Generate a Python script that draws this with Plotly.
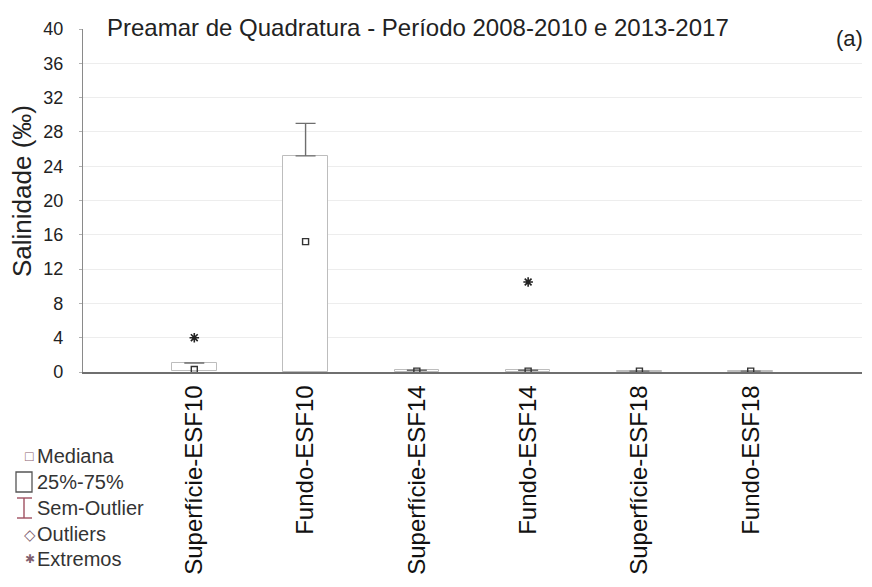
import plotly.graph_objects as go

categories = ["Superfície-ESF10", "Fundo-ESF10", "Superfície-ESF14",
              "Fundo-ESF14", "Superfície-ESF18", "Fundo-ESF18"]
positions = [1, 2, 3, 4, 5, 6]
median = [0.3, 15.2, 0.1, 0.1, 0.1, 0.1]
q1 = [0.1, 0.0, 0.0, 0.0, 0.0, 0.0]
q3 = [1.05, 25.2, 0.2, 0.2, 0.1, 0.1]
wmax = [1.05, 29.0, 0.2, 0.2, 0.1, 0.1]
extreme_pos = [1, 4]
extreme_val = [4.0, 10.5]
yticks = [0, 4, 8, 12, 16, 20, 24, 28, 32, 36, 40]

FONT = "Liberation Sans, Arial, sans-serif"
TXT = "#222222"

# plot area in screenshot pixels (page has an 8px body offset)
PL, PR, PT, PB = 83, 862, 29, 372
PW, PH = PR - PL, PB - PT


def px_x(p):
    return (p - PL) / PW


def px_y(p):
    return (PB - p) / PH


fig = go.Figure()

# boxes (25%-75%)
fig.add_trace(go.Bar(
    x=positions, y=[b - a for a, b in zip(q1, q3)], base=q1, width=0.4,
    marker=dict(color="white", line=dict(color="#bdbdbd", width=1)),
    showlegend=False, hoverinfo="skip"))

# whiskers (non-outlier range)
fig.add_trace(go.Scatter(
    x=positions, y=q3, mode="markers",
    marker=dict(size=1, color="rgba(0,0,0,0)"),
    error_y=dict(type="data", symmetric=False,
                 array=[b - a for a, b in zip(q3, wmax)],
                 arrayminus=[0 for _ in q3],
                 color="#6e6e6e", thickness=1.4, width=10),
    showlegend=False, hoverinfo="skip"))

# medians
fig.add_trace(go.Scatter(
    x=positions, y=median, mode="markers",
    marker=dict(symbol="square-open", size=6, color="#333333",
                line=dict(width=1.4)),
    showlegend=False))

# extremes
fig.add_trace(go.Scatter(
    x=extreme_pos, y=extreme_val, mode="markers",
    marker=dict(symbol="asterisk-open", size=8, color="#222222",
                line=dict(width=1.6, color="#222222")),
    showlegend=False))

fig.update_layout(
    width=872, height=587,
    margin=dict(l=PL - 8, r=872 - (PR - 8), t=PT - 8, b=587 - (PB - 8)),
    paper_bgcolor="white", plot_bgcolor="white",
    font=dict(family=FONT, color=TXT),
    bargap=0,
    xaxis=dict(range=[0, 7], tickvals=positions, ticktext=categories,
               tickangle=-90, tickfont=dict(size=24, color="#111111"),
               showline=True, linecolor="#6f6f6f", linewidth=1.6,
               showgrid=False, zeroline=False, ticks="",
               ticklabelstandoff=2),
    yaxis=dict(range=[0, 40], tickvals=yticks,
               tickfont=dict(size=18, color=TXT),
               showline=True, linecolor="#8a8a8a", linewidth=1.3,
               ticks="outside", ticklen=3, tickcolor="#b0b0b0",
               ticklabelstandoff=12,
               showgrid=True, gridcolor="#ededed", gridwidth=1,
               zeroline=False),
)

# y-axis title
fig.add_annotation(text="Salinidade (‰)", xref="paper", yref="paper",
                   x=px_x(22), y=px_y(191), textangle=-90,
                   xanchor="center", yanchor="middle", showarrow=False,
                   font=dict(size=26, color=TXT))

fig.add_annotation(text="Preamar de Quadratura - Período 2008-2010 e 2013-2017",
                   xref="paper", yref="paper", x=px_x(105), y=px_y(28),
                   xanchor="left", yanchor="middle", showarrow=False,
                   font=dict(size=24, color=TXT))
fig.add_annotation(text="(a)", xref="paper", yref="paper", x=px_x(865), y=px_y(38),
                   xanchor="right", yanchor="middle", showarrow=False,
                   font=dict(size=22, color=TXT))

# legend (custom)
legend_items = [("□", "Mediana", 14, "#8a6070"),
                ("", "25%-75%", 0, "#555555"),
                ("", "Sem-Outlier", 0, "#a05060"),
                ("◇", "Outliers", 15, "#806070"),
                ("✱", "Extremos", 12, "#806070")]
ys = [456, 482, 508, 534, 559]
for (sym, txt, ssz, col), yy in zip(legend_items, ys):
    fig.add_annotation(text=txt, xref="paper", yref="paper",
                       x=px_x(35), y=px_y(yy), xanchor="left", yanchor="middle",
                       showarrow=False, font=dict(size=20, color="#333333"))
    if sym:
        fig.add_annotation(text=sym, xref="paper", yref="paper",
                           x=px_x(30), y=px_y(yy), xanchor="center", yanchor="middle",
                           showarrow=False, font=dict(size=ssz, color=col))

# big square for 25%-75%
fig.add_shape(type="rect", xref="paper", yref="paper",
              x0=px_x(16), x1=px_x(32), y0=px_y(492), y1=px_y(472),
              line=dict(color="#555555", width=1.3), fillcolor="white")
# I-beam for Sem-Outlier
for (xa, ya, xb, yb) in [(24, 498, 24, 518), (17, 498, 32, 498), (17, 518, 32, 518)]:
    fig.add_shape(type="line", xref="paper", yref="paper",
                  x0=px_x(xa), y0=px_y(ya), x1=px_x(xb), y1=px_y(yb),
                  line=dict(color="#a05060", width=1.4))

fig.write_html("out.html")
